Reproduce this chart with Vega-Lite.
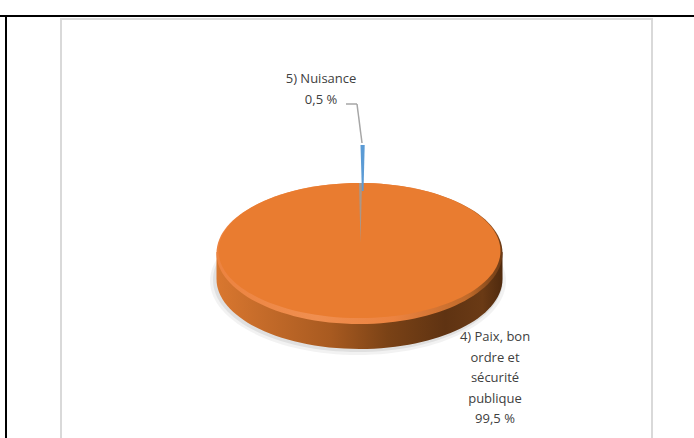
{"$schema":"https://vega.github.io/schema/vega-lite/v6.json","width":694,"height":438,"padding":0,"autosize":"none","background":"white","view":{"stroke":null},"config":{"axis":{"disable":true}},
"datasets":{"slices":[{"category":"4) Paix, bon ordre et sécurité publique","value":99.5,"label":"4) Paix, bon\nordre et\nsécurité\npublique\n99,5 %"},{"category":"5) Nuisance","value":0.5,"label":"5) Nuisance\n0,5 %"}],"frame":[{"part":"frame"}]},
"data":{"name":"slices"},
"layer":[
{"data":{"name":"frame"},"mark":{"type":"rect","fill":"white","stroke":"#d9d9d9","strokeWidth":2,"clip":true},"encoding":{"x":{"datum":61,"scale":{"domain":[0,694]}},"x2":{"datum":652},"y":{"datum":19,"scale":{"domain":[0,438],"reverse":true}},"y2":{"datum":460}}},
{"data":{"name":"frame"},"mark":{"type":"rule","color":"black","strokeWidth":2},"encoding":{"x":{"datum":0,"scale":{"domain":[0,694]}},"x2":{"datum":694},"y":{"datum":16,"scale":{"domain":[0,438],"reverse":true}}}},
{"data":{"name":"frame"},"mark":{"type":"rule","color":"black","strokeWidth":2},"encoding":{"x":{"datum":6,"scale":{"domain":[0,694]}},"y":{"datum":16,"scale":{"domain":[0,438],"reverse":true}},"y2":{"datum":438}}},
{"data":{"name":"frame"},"mark":{"type":"point","filled":true,"fill":"#000000","opacity":0.05,"size":4,"shape":"M-148 0C-148-40-82-72 0-72C82-72 148-40 148 0C148 40 82 74 0 74C-82 74-148 40-148 0Z"},"encoding":{"x":{"datum":358,"scale":{"domain":[0,694]}},"y":{"datum":281,"scale":{"domain":[0,438],"reverse":true}}}},
{"data":{"name":"frame"},"mark":{"type":"point","filled":true,"fill":"#000000","opacity":0.07,"size":4,"shape":"M-145 0C-145-40-80-72 0-72C80-72 145-40 145 0C145 40 80 72 0 72C-80 72-145 40-145 0Z"},"encoding":{"x":{"datum":358,"scale":{"domain":[0,694]}},"y":{"datum":280,"scale":{"domain":[0,438],"reverse":true}}}},
{"transform":[{"filter":"datum.value > 50"}],"mark":{"type":"point","filled":true,"opacity":1,"size":4,"fill":{"gradient":"linear","x1":0,"x2":1,"y1":0,"y2":0,"stops":[{"offset":0,"color":"#d9772f"},{"offset":0.15,"color":"#c66c2a"},{"offset":0.4,"color":"#a85a20"},{"offset":0.6,"color":"#7a4216"},{"offset":0.8,"color":"#5f3312"},{"offset":0.93,"color":"#6a3a15"},{"offset":1,"color":"#4f2a0e"}]},"shape":"M-143 0V27C-143 65.7-79 97 0 97C79 97 143 65.7 143 27V0Z"},"encoding":{"x":{"datum":359.5,"scale":{"domain":[0,694]}},"y":{"datum":252,"scale":{"domain":[0,438],"reverse":true}}}},
{"transform":[{"filter":"datum.value > 50"}],"mark":{"type":"point","filled":true,"opacity":1,"size":4,"fill":{"gradient":"linear","x1":0,"x2":1,"y1":0,"y2":0,"stops":[{"offset":0,"color":"#ec8340"},{"offset":0.35,"color":"#f08f50"},{"offset":0.62,"color":"#ec8340"},{"offset":0.88,"color":"#c06a2a"},{"offset":1,"color":"#6b3a15"}]},"shape":"M-143 0C-143-38.7-79-70 0-70C79-70 143-38.7 143 0C143 38.7 79 71 0 71C-79 71-143 38.7-143 0Z"},"encoding":{"x":{"datum":359.5,"scale":{"domain":[0,694]}},"y":{"datum":253,"scale":{"domain":[0,438],"reverse":true}}}},
{"transform":[{"filter":"datum.value > 50"}],"mark":{"type":"point","filled":true,"opacity":1,"size":4,"fill":"#e97c30","shape":"M-141 0C-141-37-78-68 0-68C78-68 141-37 141 0C141 37 78 67 0 67C-78 67-141 37-141 0Z"},"encoding":{"x":{"datum":359.5,"scale":{"domain":[0,694]}},"y":{"datum":251,"scale":{"domain":[0,438],"reverse":true}}}},
{"transform":[{"filter":"datum.value < 50"}],"mark":{"type":"point","filled":true,"opacity":1,"size":4,"fill":"#a9978a","shape":"M-1.5 -60L1.5 -60L0 0Z"},"encoding":{"x":{"datum":360.5,"scale":{"domain":[0,694]}},"y":{"datum":243,"scale":{"domain":[0,438],"reverse":true}}}},
{"transform":[{"filter":"datum.value < 50"}],"mark":{"type":"point","filled":true,"opacity":1,"size":4,"fill":"#5b9bd5","shape":"M-2 -98L2.2 -98L1 -52L-0.6 -52Z"},"encoding":{"x":{"datum":362.5,"scale":{"domain":[0,694]}},"y":{"datum":243,"scale":{"domain":[0,438],"reverse":true}}}},
{"data":{"name":"frame"},"mark":{"type":"rule","color":"#a6a6a6","strokeWidth":1.5},"encoding":{"x":{"datum":346,"scale":{"domain":[0,694]}},"x2":{"datum":357},"y":{"datum":104,"scale":{"domain":[0,438],"reverse":true}}}},
{"data":{"name":"frame"},"mark":{"type":"rule","color":"#a6a6a6","strokeWidth":1.5},"encoding":{"x":{"datum":357,"scale":{"domain":[0,694]}},"x2":{"datum":362},"y":{"datum":104,"scale":{"domain":[0,438],"reverse":true}},"y2":{"datum":143}}},
{"transform":[{"filter":"datum.value < 50"}],"mark":{"type":"text","font":"Open Sans","fontSize":13,"color":"#404040","lineBreak":"\n","lineHeight":21,"align":"center","baseline":"middle"},"encoding":{"text":{"field":"label"},"x":{"datum":321,"scale":{"domain":[0,694]}},"y":{"datum":79,"scale":{"domain":[0,438],"reverse":true}}}},
{"transform":[{"filter":"datum.value > 50"}],"mark":{"type":"text","font":"Open Sans","fontSize":13,"color":"#404040","lineBreak":"\n","lineHeight":20.5,"align":"center","baseline":"middle"},"encoding":{"text":{"field":"label"},"x":{"datum":495,"scale":{"domain":[0,694]}},"y":{"datum":337,"scale":{"domain":[0,438],"reverse":true}}}}
]}
